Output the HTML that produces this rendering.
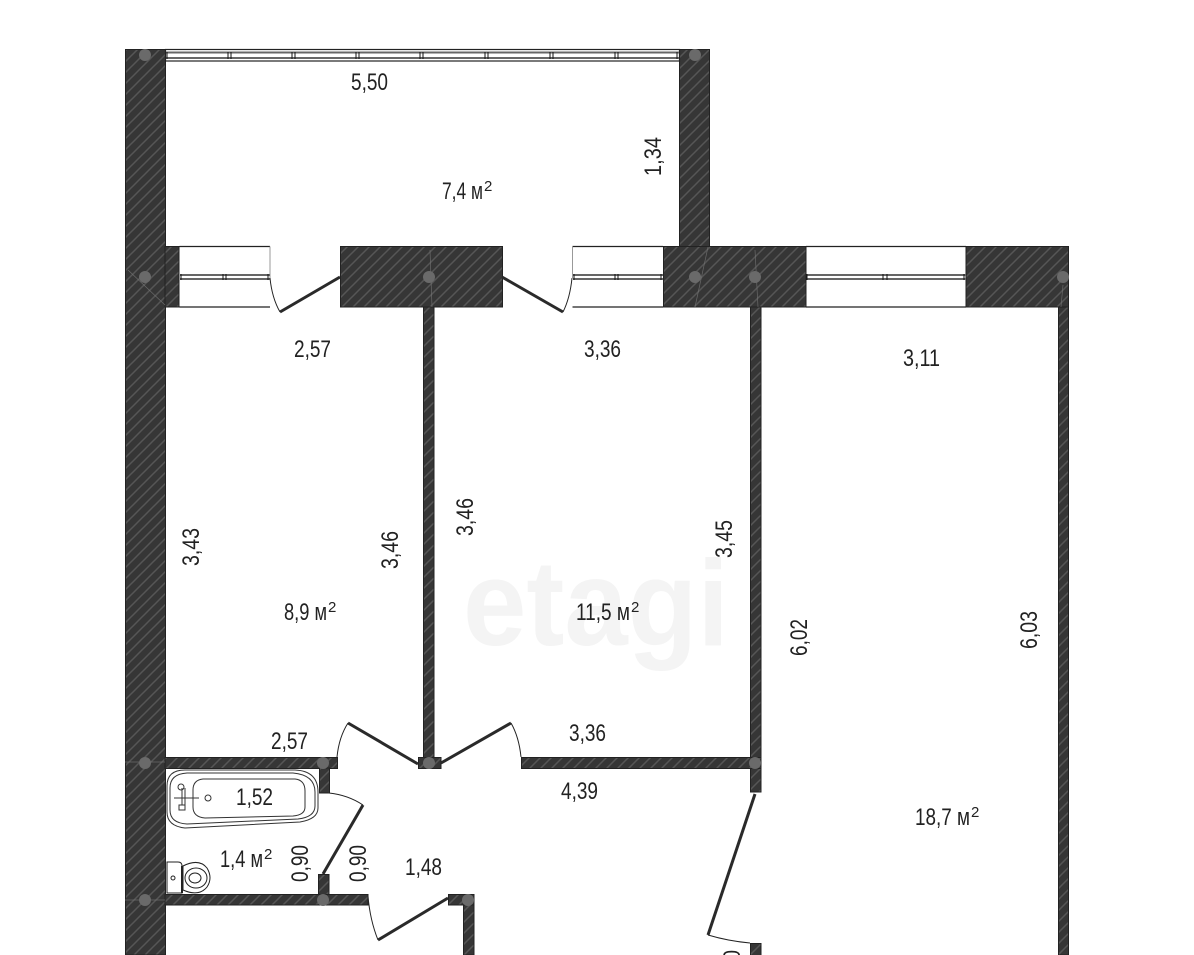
<!DOCTYPE html>
<html><head><meta charset="utf-8"><style>
html,body{margin:0;padding:0;background:#fff;width:1194px;height:955px;overflow:hidden}
svg{display:block}
text{font-family:"Liberation Sans Narrow","Liberation Sans",sans-serif;fill:#222;font-size:24px}
</style></head><body>
<svg width="1194" height="955" viewBox="0 0 1194 955" xmlns="http://www.w3.org/2000/svg">
<defs>
<pattern id="h" width="11" height="11" patternUnits="userSpaceOnUse">
<rect width="11" height="11" fill="#363636"/>
<path d="M-2 13L13 -2M-2 2L2 -2M9 13L13 9" stroke="#565656" stroke-width="1.5"/>
</pattern>
</defs>
<rect width="1194" height="955" fill="#fff"/>

<!-- watermark -->
<text x="463" y="645" textLength="266" lengthAdjust="spacingAndGlyphs" style="font-family:'Liberation Sans',sans-serif;font-size:122px;fill:#f4f4f4;font-weight:bold">etagi</text>

<!-- walls -->
<g fill="url(#h)" stroke="#222" stroke-width="1">
<rect x="125.5" y="49.5" width="40" height="905.5"/>
<rect x="679.5" y="49.5" width="30" height="198"/>
<rect x="165" y="246.5" width="14" height="60.5"/>
<rect x="340.5" y="246.5" width="162" height="60.5"/>
<rect x="663.5" y="246.5" width="142.5" height="60.5"/>
<rect x="966" y="246.5" width="102.5" height="60.5"/>
<rect x="423.5" y="307" width="10.5" height="461"/>
<rect x="750.5" y="307" width="10.5" height="485"/>
<rect x="1058.5" y="307" width="10" height="648"/>
<rect x="165" y="757.5" width="172.5" height="11"/>
<rect x="418.5" y="757.5" width="22.5" height="11"/>
<rect x="521.5" y="757.5" width="239.5" height="11"/>
<rect x="319.5" y="768" width="10" height="25"/>
<rect x="318.5" y="874.5" width="10.5" height="20"/>
<rect x="165" y="894.5" width="203" height="10.5"/>
<rect x="448.5" y="894.5" width="25.5" height="10.5"/>
<rect x="463.5" y="905" width="10.5" height="50"/>
<rect x="750.5" y="943.5" width="10.5" height="12"/>
</g>

<!-- windows -->
<g fill="#fff" stroke="#222" stroke-width="1.2">
<rect x="165.5" y="49.5" width="514" height="11.5"/>
<path d="M179.5 246.5H270M179.5 307H270"/>
<path d="M572.5 246.5H663M572.5 307H663"/>
<path d="M806 246.5H966M806 307H966"/>
</g>
<g stroke="#999" stroke-width="1" fill="none">
<path d="M270 246.5V278M572.5 246.5V278"/>
</g>
<g stroke="#666" stroke-width="2" fill="none">
<path d="M166 52.5H679M166 58H679"/>
<path d="M180 275H270M180 279H270"/>
<path d="M573 275H663M573 279H663"/>
<path d="M807 275H966M807 279H966"/>
</g>
<g stroke="#111" stroke-width="1" fill="none">
<path d="M167 52V59M228 52V59M231 52V59M292 52V59M295 52V59M356 52V59M359 52V59M420 52V59M423 52V59M485 52V59M488 52V59M550 52V59M553 52V59M615 52V59M618 52V59M677 52V59"/>
<path d="M181 274V280M223 274V280M226 274V280M268 274V280"/>
<path d="M574 274V280M615 274V280M618 274V280M661 274V280"/>
<path d="M807 274V280M883 274V280M887 274V280M964 274V280"/>
</g>

<!-- faint construction lines -->
<g stroke="#777" stroke-width="0.7" fill="none" opacity=".8">
<path d="M128 270L165 305M125 762H165M125 900H165M430 250L432 307M755 250L758 307M708 247L695 307M1063 285L1061 307"/>
</g>

<!-- column dots -->
<g fill="#6a6a6a">
<circle cx="145" cy="55" r="6"/><circle cx="695" cy="55" r="6"/>
<circle cx="145" cy="277" r="6"/><circle cx="429" cy="277" r="6"/>
<circle cx="695" cy="277" r="6"/><circle cx="755" cy="277" r="6"/><circle cx="1063" cy="277" r="6"/>
<circle cx="145" cy="763" r="6"/><circle cx="323" cy="763" r="6"/><circle cx="429" cy="763" r="6"/><circle cx="755" cy="763" r="6"/>
<circle cx="145" cy="900" r="6"/><circle cx="323" cy="900" r="6"/><circle cx="468" cy="900" r="6"/>
</g>

<!-- doors -->
<g fill="none" stroke="#2a2a2a" stroke-width="3">
<path d="M340 277L280 312"/>
<path d="M502 277L563 312"/>
<path d="M418 764L348 723"/>
<path d="M441 763L511 723"/>
<path d="M323 874L363 805"/>
<path d="M448 898L378 940"/>
<path d="M755 794L708 935"/>
</g>
<g fill="none" stroke="#222" stroke-width="1">
<path d="M270 278Q272 298 280 312"/>
<path d="M572 278Q570 298 563 312"/>
<path d="M337 757Q339 737 348 723"/>
<path d="M521 757Q519 737 511 723"/>
<path d="M329 793Q348 795 363 805"/>
<path d="M368 896Q370 920 378 940"/>
<path d="M708 935Q728 941 750 943"/>
</g>

<!-- bath -->
<g fill="none" stroke="#333">
<path d="M185 770H295Q318 771 318 792V808Q318 819 300 822L185 828Q167 826 167 812V786Q167 770 185 770Z" stroke-width="1"/>
<path d="M187 773H293Q315 775 315 792V806Q315 817 298 819L187 824Q170 823 170 810V788Q170 774 187 773Z" stroke-width="1"/>
<path d="M203 779H295Q305 780 305 791V807Q305 815 293 816L205 818Q193 817 193 807V790Q193 780 203 779Z" stroke-width="1"/>
<circle cx="208" cy="798" r="3" stroke-width="1"/>
<path d="M174 798H199M182 788V805M185 788V805" stroke-width="1"/>
<circle cx="181" cy="787" r="3" stroke-width="1"/>
<rect x="179" y="805" width="6" height="5" stroke-width="1"/>
</g>
<!-- toilet -->
<g fill="none" stroke="#222" stroke-width="1">
<path d="M167 862H178Q182 862 182 866V893H167Z"/>
<path d="M182 866V893" stroke-width="2"/>
<path d="M183 866Q199 858 207 868Q213 878 207 887Q199 897 183 890Z"/>
<ellipse cx="196" cy="878" rx="11" ry="10"/>
<ellipse cx="195" cy="878" rx="6" ry="5"/>
<circle cx="173" cy="878" r="2"/>
</g>

<!-- labels -->
<text x="351" y="90" textLength="37" lengthAdjust="spacingAndGlyphs">5,50</text>
<text x="442" y="199" textLength="41" lengthAdjust="spacingAndGlyphs">7,4 м</text><text x="484" y="191" style="font-size:15px">2</text>
<text transform="translate(661,176) rotate(-90)" textLength="39" lengthAdjust="spacingAndGlyphs">1,34</text>
<text x="294" y="357" textLength="37" lengthAdjust="spacingAndGlyphs">2,57</text>
<text x="584" y="357" textLength="37" lengthAdjust="spacingAndGlyphs">3,36</text>
<text x="903" y="366" textLength="37" lengthAdjust="spacingAndGlyphs">3,11</text>
<text transform="translate(199,566) rotate(-90)" textLength="38" lengthAdjust="spacingAndGlyphs">3,43</text>
<text transform="translate(398,569) rotate(-90)" textLength="38" lengthAdjust="spacingAndGlyphs">3,46</text>
<text transform="translate(473,536) rotate(-90)" textLength="38" lengthAdjust="spacingAndGlyphs">3,46</text>
<text transform="translate(732,558) rotate(-90)" textLength="38" lengthAdjust="spacingAndGlyphs">3,45</text>
<text x="284" y="620" textLength="43" lengthAdjust="spacingAndGlyphs">8,9 м</text><text x="328" y="612" style="font-size:15px">2</text>
<text x="576" y="620" textLength="54" lengthAdjust="spacingAndGlyphs">11,5 м</text><text x="631" y="612" style="font-size:15px">2</text>
<text transform="translate(807,656) rotate(-90)" textLength="37" lengthAdjust="spacingAndGlyphs">6,02</text>
<text transform="translate(1037,649) rotate(-90)" textLength="38" lengthAdjust="spacingAndGlyphs">6,03</text>
<text x="271" y="749" textLength="37" lengthAdjust="spacingAndGlyphs">2,57</text>
<text x="569" y="741" textLength="37" lengthAdjust="spacingAndGlyphs">3,36</text>
<text x="561" y="799" textLength="37" lengthAdjust="spacingAndGlyphs">4,39</text>
<text x="915" y="825" textLength="55" lengthAdjust="spacingAndGlyphs">18,7 м</text><text x="971" y="817" style="font-size:15px">2</text>
<text x="236" y="805" textLength="37" lengthAdjust="spacingAndGlyphs">1,52</text>
<text x="220" y="867" textLength="43" lengthAdjust="spacingAndGlyphs">1,4 м</text><text x="264" y="859" style="font-size:15px">2</text>
<text transform="translate(308,882) rotate(-90)" textLength="37" lengthAdjust="spacingAndGlyphs">0,90</text>
<text transform="translate(366,882) rotate(-90)" textLength="37" lengthAdjust="spacingAndGlyphs">0,90</text>
<text x="405" y="875" textLength="37" lengthAdjust="spacingAndGlyphs">1,48</text>
<text transform="translate(740,987) rotate(-90)" textLength="37" lengthAdjust="spacingAndGlyphs">0,90</text>
</svg>
</body></html>
